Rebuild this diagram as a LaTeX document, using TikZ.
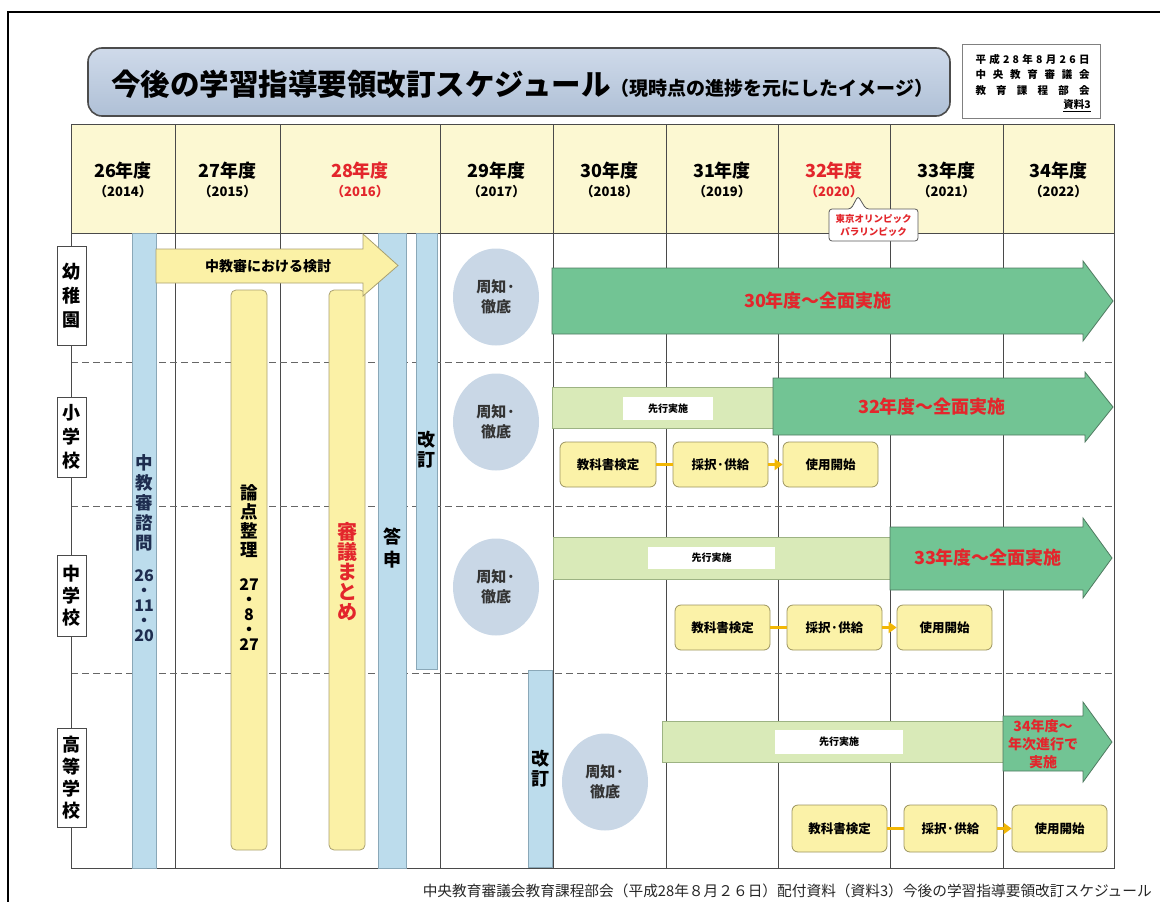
\documentclass[tikz,border=0pt]{standalone}
\usepackage{fontspec}
\setmainfont{Noto Sans CJK JP}
\usetikzlibrary{arrows.meta,shapes.geometric}
\definecolor{hdrfill}{HTML}{FCF8D2}
\definecolor{gridc}{HTML}{4A4A4A}
\definecolor{redtxt}{HTML}{E3262C}
\definecolor{bluebar}{HTML}{BCDCEC}
\definecolor{bluebord}{HTML}{8AA8B8}
\definecolor{yelbar}{HTML}{FBF1A6}
\definecolor{yelbord}{HTML}{A9A070}
\definecolor{gdark}{HTML}{72C494}
\definecolor{gdarkb}{HTML}{4F7A60}
\definecolor{glight}{HTML}{D9EAB8}
\definecolor{glightb}{HTML}{9DB383}
\definecolor{ovalc}{HTML}{C9D7E6}
\definecolor{boxfill}{HTML}{FBF2A8}
\definecolor{boxbord}{HTML}{9C9460}
\definecolor{connc}{HTML}{F2B705}
\definecolor{navy}{HTML}{1E2D4F}
\definecolor{titletop}{HTML}{CFDAEA}
\definecolor{titlemid}{HTML}{E9EEF5}
\definecolor{titlebot}{HTML}{AFC0D6}
\newcommand{\FSz}[2]{\fontsize{#1}{#2}\selectfont}
\begin{document}
\begin{tikzpicture}[x=1pt,y=-1pt,
  gridline/.style={draw=gridc, line width=1pt},
  dashline/.style={draw=gray!80!black, line width=1pt, dash pattern=on 7pt off 4pt},
  vbar/.style={fill=bluebar, draw=bluebord, line width=0.8pt},
  ybar/.style={fill=yelbar, draw=yelbord, line width=0.8pt, rounded corners=5pt},
  vtxt/.style={align=center, inner sep=0pt},
  yr/.style={inner sep=0pt, font=\bfseries\FSz{18}{20}},
  yrs/.style={inner sep=0pt, font=\bfseries\FSz{13}{15}},
  lbl/.style={draw=gridc, fill=white, line width=0.8pt, minimum width=29pt, align=center, inner sep=0pt},
  oval/.style={ellipse, fill=ovalc, minimum width=86pt, minimum height=97pt, align=center, inner sep=0pt, font=\bfseries\FSz{15}{20}, text=black!80},
  ybox/.style={draw=boxbord, fill=boxfill, rounded corners=6pt, line width=0.8pt, minimum height=45pt, minimum width=95pt, inner sep=0pt, font=\bfseries\FSz{12.5}{14}},
  conn/.style={draw=connc, line width=3pt},
  garrow/.style={fill=gdark, draw=gdarkb, line width=0.8pt},
  lbar/.style={fill=glight, draw=glightb, line width=0.8pt},
  sen/.style={fill=white, inner sep=0pt, font=\bfseries\FSz{10}{12}},
  redbig/.style={text=redtxt, inner sep=0pt, font=\bfseries\FSz{18}{20}},
]
\useasboundingbox (0,0) rectangle (1160,902);
% outer frame
\draw[line width=1.5pt] (8,902) -- (8,12) -- (1160,12);

% title
\node[rounded corners=14pt, minimum width=862pt, minimum height=68pt, draw=gray!60!black, line width=1.6pt,
      top color=titletop, middle color=titlemid, bottom color=titlebot] (title) at (519,82) {};
\node[anchor=west, inner sep=0pt] (ttl) at (111,84)
  {\bfseries\FSz{29.5}{30}今後の学習指導要領改訂スケジュール\FSz{19}{20}（現時点の進捗を元にしたイメージ）};

% reference box
\node[draw=gray, line width=0.8pt, minimum width=138pt, minimum height=74pt] (ref) at (1031,81) {};
\begin{scope}[every node/.style={inner sep=0pt, font=\bfseries\FSz{10.5}{12}}]
\node (ref1) at (1032.5,59) {\hbox to 114pt{平\hfil 成\hfil 2\hfil 8\hfil 年\hfil 8\hfil 月\hfil 2\hfil 6\hfil 日}};
\node (ref2) at (1032.5,75) {\hbox to 114pt{中\hfil 央\hfil 教\hfil 育\hfil 審\hfil 議\hfil 会}};
\node (ref3) at (1032.5,90.5) {\hbox to 114pt{教\hfil 育\hfil 課\hfil 程\hfil 部\hfil 会}};
\node[anchor=east] (ref4) at (1091,106) {\underline{資料3}};
\end{scope}

% table header background
\fill[hdrfill] (71,124) rectangle (1114,233);
% grid
\foreach \x in {175,280,440,553,666,778,890,1003}
  \draw[gridline] (\x,124) -- (\x,868);
\draw[gridline] (71,233) -- (1114,233);
\foreach \y in {362,506,673}
  \draw[dashline] (71,\y) -- (1114,\y);
\draw[gridline] (71,124) rectangle (1114,868);

% header texts
\node[yr] (h1) at (123,171) {26年度};   \node[yrs] (h1b) at (123,192) {（2014）};
\node[yr] (h2) at (227.5,171) {27年度}; \node[yrs] (h2b) at (227.5,192) {（2015）};
\node[yr,text=redtxt] (h3) at (360,171) {28年度}; \node[yrs,text=redtxt] (h3b) at (360,192) {（2016）};
\node[yr] (h4) at (496.5,171) {29年度}; \node[yrs] (h4b) at (496.5,192) {（2017）};
\node[yr] (h5) at (609.5,171) {30年度}; \node[yrs] (h5b) at (609.5,192) {（2018）};
\node[yr] (h6) at (722,171) {31年度};   \node[yrs] (h6b) at (722,192) {（2019）};
\node[yr,text=redtxt] (h7) at (834,171) {32年度}; \node[yrs,text=redtxt] (h7b) at (834,192) {（2020）};
\node[yr] (h8) at (946.5,171) {33年度}; \node[yrs] (h8b) at (946.5,192) {（2021）};
\node[yr] (h9) at (1058.5,171) {34年度}; \node[yrs] (h9b) at (1058.5,192) {（2022）};

% olympic callout
\draw[fill=white, draw=gray!70!black, line width=0.8pt, rounded corners=3pt]
  (829,209) -- (851,209) -- (858,196) -- (866,209) -- (918,209) -- (918,241) -- (829,241) -- cycle;
\node[align=center, inner sep=0pt, text=redtxt, font=\bfseries\FSz{9.5}{13}] (olym) at (873.5,225) {東京オリンピック\\パラリンピック};

% vertical bars
\draw[vbar] (132,233) rectangle (156,868);
\draw[ybar] (231,290) rectangle (267,850);
\draw[ybar] (329,290) rectangle (365,850);
\draw[vbar] (378,233) rectangle (406,868);
\draw[vbar] (416,233) rectangle (437,669);
\draw[vbar] (528,670) rectangle (552,867);

\node[vtxt, text=navy, font=\bfseries\FSz{17.5}{20}] (shimon) at (144,502.5) {中\\教\\審\\諮\\問};
\node[vtxt, text=navy, font=\bfseries\FSz{16}{15}] (shimond) at (144,606) {26\\・\\11\\・\\20};
\node[vtxt, font=\bfseries\FSz{17.5}{19}] (ronten) at (249,521.5) {論\\点\\整\\理};
\node[vtxt, font=\bfseries\FSz{16}{15}] (rontend) at (249,615) {27\\・\\8\\・\\27};
\node[vtxt, text=redtxt, font=\bfseries\FSz{20}{20}] (matome) at (347,572) {審\\議\\ま\\と\\め};
\node[vtxt, font=\bfseries\FSz{18}{23}] (toshin) at (392,548.5) {答\\申};
\node[vtxt, font=\bfseries\FSz{18}{20}] (kaitei1) at (426.5,450) {改\\訂};
\node[vtxt, font=\bfseries\FSz{18}{20}] (kaitei2) at (540,769) {改\\訂};

% review arrow
\draw[fill=yelbar, draw=yelbord, line width=0.8pt]
  (156,249) -- (363,249) -- (363,234) -- (398,265.5) -- (363,296) -- (363,283) -- (156,283) -- cycle;
\node[inner sep=0pt, font=\bfseries\FSz{14}{16}] (kento) at (268,266) {中教審における検討};

% row labels
\node[lbl, minimum height=99pt, font=\bfseries\FSz{18}{24}] (r1) at (71.5,295.5) {幼\\稚\\園};
\node[lbl, minimum height=80pt, font=\bfseries\FSz{18}{24}] (r2) at (71.5,437) {小\\学\\校};
\node[lbl, minimum height=81pt, font=\bfseries\FSz{18}{22}] (r3) at (71.5,595.5) {中\\学\\校};
\node[lbl, minimum height=99pt, font=\bfseries\FSz{18}{22}] (r4) at (71.5,777.5) {高\\等\\学\\校};

% ovals
\node[oval] (o1) at (496,297) {周知·\\徹底};
\node[oval] (o2) at (496,422) {周知·\\徹底};
\node[oval] (o3) at (496,587) {周知·\\徹底};
\node[oval] (o4) at (605,782) {周知·\\徹底};

% kindergarten
\draw[garrow] (552,268) -- (1083,268) -- (1083,261) -- (1113,301) -- (1083,341) -- (1083,334) -- (552,334) -- cycle;
\node[redbig] (g1) at (818,301) {30年度～全面実施};

% elementary
\draw[lbar] (552,387) rectangle (773,428);
\node[sen, minimum width=90pt, minimum height=23pt] (p1) at (668,408.5) {先行実施};
\draw[garrow] (773,378) -- (1085,378) -- (1085,372) -- (1113,407) -- (1085,442) -- (1085,435) -- (773,435) -- cycle;
\node[redbig] (g2) at (932,407) {32年度～全面実施};
\node[ybox, minimum width=96pt] (k1) at (608,464.5) {教科書検定};
\node[ybox] (s1) at (720.5,464.5) {採択·供給};
\node[ybox] (u1) at (830.5,464.5) {使用開始};
\draw[conn] (k1) -- (s1);
\draw[conn, -{Triangle[length=8pt,width=11pt]}] (s1) -- (u1);

% junior high
\draw[lbar] (553,537) rectangle (890,579);
\node[sen, minimum width=127pt, minimum height=22pt] (p2) at (711.5,558) {先行実施};
\draw[garrow] (890,527) -- (1083,527) -- (1083,518) -- (1112,558) -- (1083,598) -- (1083,590) -- (890,590) -- cycle;
\node[redbig] (g3) at (988,558) {33年度～全面実施};
\node[ybox] (k2) at (722.5,627.5) {教科書検定};
\node[ybox] (s2) at (834.5,627.5) {採択·供給};
\node[ybox] (u2) at (944.5,627.5) {使用開始};
\draw[conn] (k2) -- (s2);
\draw[conn, -{Triangle[length=8pt,width=11pt]}] (s2) -- (u2);

% high school
\draw[lbar] (662,721) rectangle (1003,762);
\node[sen, minimum width=128pt, minimum height=24pt] (p3) at (839,742) {先行実施};
\draw[garrow] (1003,716) -- (1083,716) -- (1083,702) -- (1112,742) -- (1083,782) -- (1083,771) -- (1003,771) -- cycle;
\node[align=center, inner sep=0pt, text=redtxt, font=\bfseries\FSz{14}{18}] (g4) at (1043,744) {34年度～\\年次進行で\\実施};
\node[ybox, minimum height=47pt] (k3) at (839.5,828.5) {教科書検定};
\node[ybox, minimum height=47pt, minimum width=93pt] (s3) at (950.5,828.5) {採択·供給};
\node[ybox, minimum height=47pt] (u3) at (1059.5,828.5) {使用開始};
\draw[conn] (k3) -- (s3);
\draw[conn, -{Triangle[length=8pt,width=11pt]}] (s3) -- (u3);

% caption
\node[anchor=east, inner sep=0pt, text=black!85, font=\FSz{14.7}{16}] (cap) at (1152,891)
  {中央教育審議会教育課程部会（平成28年８月２６日）配付資料（資料3）今後の学習指導要領改訂スケジュール};
\end{tikzpicture}
\end{document}
